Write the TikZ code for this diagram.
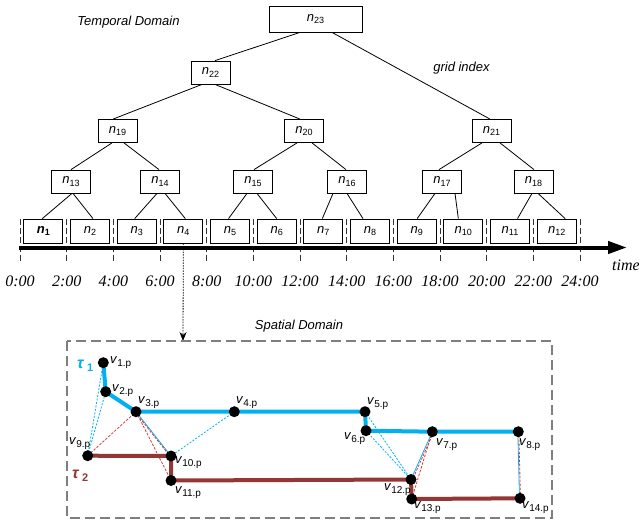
\documentclass[tikz,border=0pt]{standalone}
\usepackage{fontspec}
\setmainfont{Liberation Sans}
\newfontfamily\serifit{Liberation Serif}
\usetikzlibrary{arrows.meta}
\definecolor{tblue}{HTML}{00B0F0}
\definecolor{tbrown}{HTML}{943634}
\definecolor{tred}{HTML}{D23A3A}
\definecolor{boxgray}{HTML}{7F7F7F}
\newcommand\nn[1]{\textit{n}\raisebox{-2.5pt}{\fontsize{9}{9}\selectfont #1}}
\newcommand\vv[1]{\textit{v}\raisebox{-3pt}{\fontsize{10}{10}\selectfont #1}}
\tikzset{
  tnode/.style={draw, line width=0.8pt, minimum width=39pt, minimum height=23pt, inner sep=0pt, font=\fontsize{13}{13}\selectfont},
  leaf/.style={tnode, minimum height=24pt},
  tedge/.style={line width=0.8pt},
  tick/.style={draw=black!80, line width=0.9pt, dash pattern=on 6pt off 3pt},
  tlab/.style={font=\serifit\itshape\fontsize{16}{16}\selectfont, inner sep=0pt},
  title/.style={font=\itshape\fontsize{13}{13}\selectfont, inner sep=0pt},
  vtx/.style={circle, fill=black, inner sep=0pt, minimum size=11pt},
  vlab/.style={anchor=west, inner sep=0pt, font=\fontsize{13}{13}\selectfont},
  tauone/.style={draw=tblue, line width=4pt, line join=round},
  tautwo/.style={draw=tbrown, line width=4pt, line join=round},
  bdash/.style={draw=tblue, line width=0.8pt, dash pattern=on 2pt off 1.5pt},
  rdash/.style={draw=tred, line width=0.8pt, dash pattern=on 2.5pt off 1.5pt},
  bthin/.style={draw=tblue, line width=0.8pt},
}
\begin{document}
\begin{tikzpicture}[x=1pt,y=-1pt]
\useasboundingbox (0,0) rectangle (639,523);
% titles
\node[title] (tdom) at (128.5,22) {Temporal Domain};
\node[title] (gidx) at (461.5,68) {grid index};
\node[title] (sdom) at (299,326) {Spatial Domain};
% tree
\node[tnode, minimum width=93pt, minimum height=26pt] (n23) at (315.5,19) {\nn{23}};
\node[tnode] (n22) at (210.5,72.5) {\nn{22}};
\node[tnode] (n19) at (117.5,131) {\nn{19}};
\node[tnode] (n20) at (304,131) {\nn{20}};
\node[tnode] (n21) at (491.5,131) {\nn{21}};
\node[tnode] (n13) at (71,181.5) {\nn{13}};
\node[tnode] (n14) at (160,181.5) {\nn{14}};
\node[tnode] (n15) at (253,181.5) {\nn{15}};
\node[tnode] (n16) at (347,181.5) {\nn{16}};
\node[tnode] (n17) at (442,181.5) {\nn{17}};
\node[tnode] (n18) at (533.5,181.5) {\nn{18}};
\node[leaf] (n1) at (43.3,231) {\bfseries\textit{n}\raisebox{-2.5pt}{\fontsize{9}{9}\selectfont 1}};
\foreach \i in {2,...,12}
  \node[leaf] (n\i) at ({20+46.667*(\i-1)+23.33},231) {\nn{\i}};
% tree edges
\foreach \p/\a/\c/\b in {n23/-15.5/n22/4.5, n23/16.5/n21/-1.5,
  n22/-8.5/n19/-4.5, n22/4.5/n20/-4,
  n19/-5.5/n13/0, n19/6.5/n14/-1, n20/-7/n15/1, n20/8/n16/-1,
  n21/-9.5/n17/-3, n21/8.5/n18/0.5,
  n13/1/n1/-1, n13/2/n2/3, n14/-3/n3/-2, n14/5/n4/2,
  n15/-6/n5/-1.5, n15/4/n6/0, n16/-14/n7/-1, n16/0/n8/-7,
  n17/-7/n9/0.5, n17/13/n10/-5, n18/-1.5/n11/7.5, n18/4.5/n12/8.5}
  \draw[tedge] ([xshift=\a pt]\p.south) -- ([xshift=\b pt]\c.north);
% time axis
\foreach \k in {0,...,12}{
  \coordinate (tt\k) at ({20+46.667*\k},219);
  \coordinate (tb\k) at ({20+46.667*\k},263);
  \draw[tick] (tt\k) -- (tb\k);
}
\coordinate (ax0) at (19,247.5);
\coordinate (ax1) at (627,247.5);
\draw[line width=4pt, -{Triangle[length=19pt,width=12pt]}] (ax0) -- (ax1);
\node[tlab, anchor=west] (timelab) at (612,265) {time};
\foreach \k [evaluate=\k as \h using int(2*\k)] in {0,...,12}
  \node[tlab] (tl\k) at ({20+46.667*\k},281) {\h:00};
% link to spatial domain
\coordinate (sdtop) at (183,341);
\draw[line width=0.8pt, dash pattern=on 1.5pt off 1.2pt, -{Stealth[length=9pt,width=7pt]}] (n4.south) -- (sdtop);
% spatial domain box
\draw[draw=boxgray, line width=1.6pt, dash pattern=on 10pt off 5pt] (67,341) rectangle (552,518);
% vertices
\coordinate (v1) at (103.3,362.7);
\coordinate (v2) at (105.7,391.7);
\coordinate (v3) at (136,411.7);
\coordinate (v4) at (234.3,411.7);
\coordinate (v5) at (365,411.7);
\coordinate (v6) at (366,430.7);
\coordinate (v7) at (432.3,431.7);
\coordinate (v8) at (518.3,431.7);
\coordinate (v9) at (87.7,455.7);
\coordinate (v10) at (171,456);
\coordinate (v11) at (171,480.5);
\coordinate (v12) at (411,479.5);
\coordinate (v13) at (411.7,499);
\coordinate (v14) at (520,498.3);
% thin relations
\draw[bdash] (v9) -- (v1);
\draw[bdash] (v9) -- (v2);
\draw[rdash] (v9) -- (v3);
\draw[bthin] (v3) -- (v10);
\draw[rdash] ([xshift=-1.2pt]v3) -- ([xshift=-1.2pt]v10);
\draw[rdash] (v3) -- (v11);
\draw[bdash] (v4) -- (v10);
\draw[bdash] (v5) -- (v12);
\draw[bdash] (v6) -- (v12);
\draw[bthin] (v7) -- (v12);
\draw[rdash] ([xshift=1.5pt]v7) -- ([xshift=1.5pt]v12);
\draw[rdash] (v7) -- (v13);
\draw[bthin] ([xshift=-0.5pt]v8) -- ([xshift=-0.5pt]v14);
\draw[rdash] ([xshift=0.5pt]v8) -- ([xshift=0.5pt]v14);
% trajectories
\draw[tauone] (v1) -- (v2) -- (v3) -- (v4) -- (v5) -- (v6) -- (v7) -- (v8);
\draw[tautwo] (v9) -- (v10) -- (v11) -- (v12) -- (v13) -- (v14);
\foreach \i in {1,...,14}
  \node[vtx] (d\i) at (v\i) {};
% labels
\node[vlab] (l1) at (110,363) {\vv{1.p}};
\node[vlab] (l2) at (112,391) {\vv{2.p}};
\node[vlab] (l3) at (138,403) {\vv{3.p}};
\node[vlab] (l4) at (236,403) {\vv{4.p}};
\node[vlab] (l5) at (367,404) {\vv{5.p}};
\node[vlab] (l6) at (344,439) {\vv{6.p}};
\node[vlab] (l7) at (436,445) {\vv{7.p}};
\node[vlab] (l8) at (519,445) {\vv{8.p}};
\node[vlab] (l9) at (69,444) {\vv{9.p}};
\node[vlab] (l10) at (175,463) {\vv{10.p}};
\node[vlab] (l11) at (175,493) {\vv{11.p}};
\node[vlab] (l12) at (384,490) {\vv{12.p}};
\node[vlab] (l13) at (414,508) {\vv{13.p}};
\node[vlab] (l14) at (522,508) {\vv{14.p}};
\node[vlab, text=tblue, font=\bfseries\fontsize{16}{16}\selectfont] (tau1) at (77,366) {\textit{τ}\,\raisebox{-3pt}{\fontsize{11}{11}\selectfont 1}};
\node[vlab, text=tbrown, font=\bfseries\fontsize{16}{16}\selectfont] (tau2) at (72,476) {\textit{τ}\,\raisebox{-3pt}{\fontsize{11}{11}\selectfont 2}};
\end{tikzpicture}
\end{document}
